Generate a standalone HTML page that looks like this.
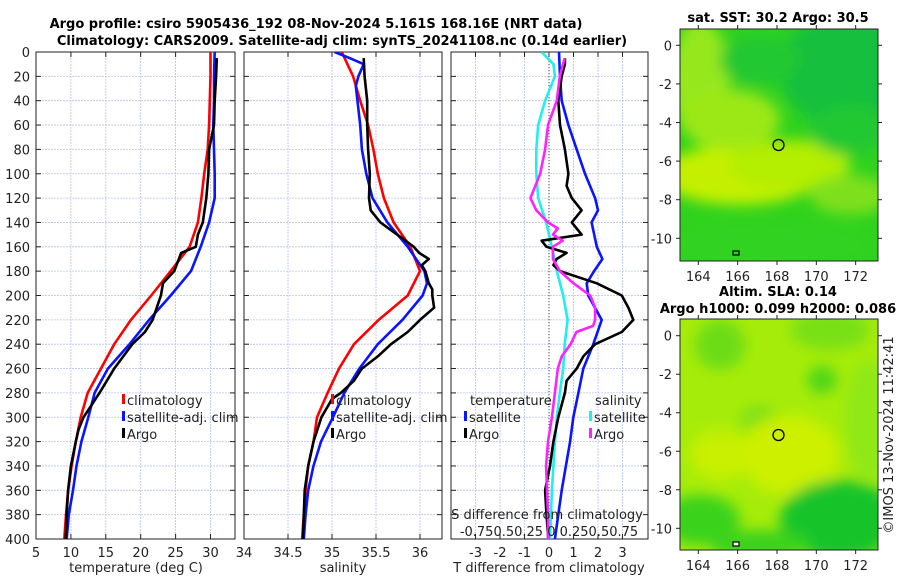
<!DOCTYPE html>
<html><head><meta charset="utf-8">
<style>
body{margin:0;background:#fff;}
svg{display:block;font-family:"DejaVu Sans","Liberation Sans",sans-serif;}
</style></head>
<body>
<svg id="fig" width="900" height="580" viewBox="0 0 900 580" xmlns="http://www.w3.org/2000/svg">
<defs>
<filter id="blur6" x="-50%" y="-50%" width="200%" height="200%"><feGaussianBlur stdDeviation="7"/></filter>
<clipPath id="cm1"><rect x="680" y="29" width="198" height="232"/></clipPath>
<clipPath id="cm2"><rect x="680" y="319" width="198" height="231"/></clipPath>
<clipPath id="cp1"><rect x="36" y="52" width="199" height="487"/></clipPath>
<clipPath id="cp2"><rect x="244" y="52" width="198" height="487"/></clipPath>
<clipPath id="cp3"><rect x="451" y="52" width="197" height="487"/></clipPath>
</defs>
<text x="316" y="28" text-anchor="middle" font-size="13" font-weight="bold">Argo profile: csiro 5905436_192 08-Nov-2024 5.161S 168.16E (NRT data)</text>
<text x="342" y="45" text-anchor="middle" font-size="13" font-weight="bold">Climatology: CARS2009. Satellite-adj clim: synTS_20241108.nc (0.14d earlier)</text>

<g id="maps">
<text x="778" y="22" text-anchor="middle" font-size="13" font-weight="bold">sat. SST: 30.2 Argo: 30.5</text>
<g clip-path="url(#cm1)">
<rect x="680" y="29" width="198" height="232" fill="#2ed21e"/>
<g filter="url(#blur6)">
<ellipse cx="700" cy="80" rx="30" ry="60" fill="#96e81a"/>
<ellipse cx="850" cy="70" rx="70" ry="60" fill="#14bf3c"/>
<ellipse cx="760" cy="60" rx="40" ry="25" fill="#22c830"/>
<ellipse cx="740" cy="175" rx="80" ry="30" fill="#c4f000"/>
<ellipse cx="790" cy="165" rx="60" ry="25" fill="#b4ee06"/>
<ellipse cx="730" cy="120" rx="50" ry="30" fill="#9ce812"/>
<ellipse cx="850" cy="195" rx="40" ry="20" fill="#7ee01a"/>
<ellipse cx="760" cy="245" rx="110" ry="22" fill="#30d222"/>
<ellipse cx="850" cy="130" rx="40" ry="25" fill="#24c832"/>
</g>
<circle cx="778.5" cy="145" r="5.5" fill="none" stroke="#000" stroke-width="1.3"/>
<rect x="733" y="251" width="6" height="4" fill="none" stroke="#000" stroke-width="1.2"/>
</g>
<rect x="680" y="29" width="198" height="232" fill="none" stroke="#222" stroke-width="1"/>
<text x="778" y="296" text-anchor="middle" font-size="13" font-weight="bold">Altim. SLA: 0.14</text>
<text x="778" y="313" text-anchor="middle" font-size="13" font-weight="bold">Argo h1000: 0.099 h2000: 0.086</text>
<g clip-path="url(#cm2)">
<rect x="680" y="319" width="198" height="231" fill="#a6ec0a"/>
<g filter="url(#blur6)">
<ellipse cx="720" cy="345" rx="25" ry="25" fill="#6cdc16"/>
<ellipse cx="830" cy="330" rx="40" ry="20" fill="#78e014"/>
<ellipse cx="822" cy="380" rx="15" ry="14" fill="#50d618"/>
<ellipse cx="760" cy="420" rx="20" ry="15" fill="#80e014"/>
<ellipse cx="720" cy="455" rx="30" ry="25" fill="#c8f000"/>
<ellipse cx="790" cy="455" rx="50" ry="40" fill="#ccf000"/>
<ellipse cx="840" cy="520" rx="60" ry="40" fill="#16c42c"/>
<ellipse cx="700" cy="520" rx="40" ry="25" fill="#3ad21c"/>
<ellipse cx="760" cy="545" rx="50" ry="15" fill="#3ad21c"/>
<ellipse cx="870" cy="420" rx="25" ry="60" fill="#90e812"/>
</g>
<circle cx="778.5" cy="435" r="5.5" fill="none" stroke="#000" stroke-width="1.3"/>
<rect x="733" y="542" width="6" height="4" fill="#fff" stroke="#000" stroke-width="1.2"/>
</g>
<rect x="680" y="319" width="198" height="231" fill="none" stroke="#222" stroke-width="1"/>
<text transform="translate(893,435) rotate(-90)" text-anchor="middle" font-size="13" fill="#222">©IMOS 13-Nov-2024 11:42:41</text>
</g>
<g id="plots"></g>
</svg>
<script>
// ---------- data ----------
var depthTicks=[0,20,40,60,80,100,120,140,160,180,200,220,240,260,280,300,320,340,360,380,400];
var tempTicks=[5,10,15,20,25,30];
var salTicks=[34,34.5,35,35.5,36];
var salTickLabels=["34","34.5","35","35.5","36"];
var diffTicks=[-3,-2,-1,0,1,2,3];

var climDepth=[0,20,40,60,80,100,120,140,160,180,200,220,240,260,280,300,320,340,360,380,400];
var climTemp=[30.0,30.0,29.9,29.8,29.6,29.1,28.7,28.2,27.0,24.3,21.5,18.6,16.2,14.3,12.4,11.4,10.7,10.1,9.6,9.3,9.05];
var satTemp=[30.6,30.5,30.5,30.4,30.5,30.6,30.6,29.8,28.6,27.2,24.3,21.2,18.4,15.3,13.4,12.5,11.5,10.8,10.3,9.7,9.4];
var argoDepth=[5,20,40,60,80,100,120,140,150,160,165,180,190,200,220,230,240,260,280,300,310,320,340,360,380,400];
var argoTemp=[30.9,30.8,30.6,30.5,29.8,29.7,29.4,28.9,28.2,27.9,25.8,24.8,23.2,22.9,21.7,20.6,18.8,16.2,14.1,11.8,11.1,10.7,10.0,9.6,9.4,9.25];

var climSal=[35.11,35.24,35.32,35.41,35.47,35.52,35.59,35.70,35.89,36.0,35.86,35.53,35.25,35.08,34.95,34.83,34.79,34.73,34.70,34.68,34.66];
var satSalDepth=[0,5,10,20,28,60,80,100,120,140,160,180,190,200,220,240,260,280,300,320,340,360,380,400];
var satSal=[35.03,35.2,35.36,35.30,35.27,35.32,35.34,35.39,35.46,35.63,35.86,36.05,36.08,36.03,35.80,35.52,35.31,35.14,35.01,34.875,34.79,34.73,34.70,34.68];
var argoSalDepth=[5,20,40,60,80,100,120,130,140,150,160,165,170,175,180,190,195,200,210,220,230,240,250,260,270,280,285,300,320,340,360,380,400];
var argoSal=[35.36,35.37,35.40,35.40,35.41,35.43,35.42,35.44,35.55,35.74,35.93,35.99,36.1,36.02,36.06,36.1,36.14,36.14,36.16,36.0,35.86,35.67,35.52,35.34,35.25,35.1,35.0,34.88,34.79,34.73,34.69,34.68,34.67];

var satTdiffDepth=[0,20,40,60,80,100,120,130,140,160,170,180,190,200,220,240,260,280,300,320,340,360,380,400];
var satTdiff=[0.41,0.45,0.52,0.79,1.13,1.47,1.88,2.0,1.74,1.95,2.18,1.84,1.54,1.6,2.15,1.81,1.4,1.2,0.99,0.86,0.69,0.52,0.38,0.24];
var satSdiffDepth=[0,10,20,30,40,60,80,100,120,140,160,180,200,220,240,260,280,300,320,340,360,380,400];
var satSdiff=[-0.075,0.045,0.06,0.01,-0.04,-0.11,-0.13,-0.13,-0.11,-0.03,0.03,0.08,0.145,0.19,0.16,0.145,0.11,0.08,0.06,0.045,0.03,0.02,0.01];
var argoTdiffDepth=[5,10,20,40,60,80,100,110,120,130,140,150,155,160,165,170,175,180,190,200,210,220,230,240,250,260,270,280,300,320,340,360,380,400];
var argoTdiff=[0.65,0.65,0.52,0.38,0.45,0.65,0.79,0.72,0.93,1.33,0.93,1.33,-0.3,-0.1,0.72,0.31,0.18,0.45,1.95,2.97,3.24,3.44,2.97,1.88,1.4,1.13,0.72,0.65,0.38,0.18,0.04,-0.16,-0.1,-0.03];
var argoSdiffDepth=[5,20,40,60,80,100,120,130,140,145,150,155,160,170,180,190,200,210,220,225,230,240,250,260,280,300,320,340,360,380,400];
var argoSdiff=[0.16,0.11,0.08,-0.01,-0.04,-0.09,-0.19,-0.13,-0.01,0.09,0.04,0.14,0.04,0.04,0.11,0.25,0.42,0.47,0.47,0.45,0.28,0.22,0.13,0.09,0.06,0.03,-0.01,-0.03,-0.02,-0.01,-0.01];

// ---------- drawing ----------
var NS="http://www.w3.org/2000/svg";
var root=document.getElementById('plots');
function mk(tag,attrs,parent){var e=document.createElementNS(NS,tag);for(var k in attrs)e.setAttribute(k,attrs[k]);(parent||root).appendChild(e);return e;}
var plotTop=52,plotBot=539;
function yD(d){return plotTop+(d/400)*(plotBot-plotTop);}
function xT(v){return 36+(v-5)*6.98;}
function xS(v){return 244+(v-34)*88;}
function xDT(v){return 549+v*24.5;}
function xDS(v){return 549+v*4*24.5;}

function panel(x0,x1,xs,xscale,name){
  var g=mk('g',{});
  
  
  depthTicks.forEach(function(d){
    var l=mk('line',{x1:x0,x2:x1,y1:yD(d),y2:yD(d),stroke:'#b8c0e8','stroke-width':0.8,'stroke-dasharray':'2,1'},g);
    
    
    mk('line',{x1:x0,x2:x0+5,y1:yD(d),y2:yD(d),stroke:'#222'},g);
    mk('line',{x1:x1-5,x2:x1,y1:yD(d),y2:yD(d),stroke:'#222'},g);
  });
  xs.forEach(function(v){
    var l=mk('line',{x1:xscale(v),x2:xscale(v),y1:plotTop,y2:plotBot,stroke:'#b8c0e8','stroke-width':0.8,'stroke-dasharray':'2,1'},g);
    
    
    mk('line',{x1:xscale(v),x2:xscale(v),y1:plotBot-5,y2:plotBot,stroke:'#222'},g);
    mk('line',{x1:xscale(v),x2:xscale(v),y1:plotTop,y2:plotTop+5,stroke:'#222'},g);
  });
  var r=mk('rect',{x:x0,y:plotTop,width:x1-x0,height:plotBot-plotTop,fill:'none',stroke:'#222','stroke-width':1},g);
  
  
  return g;
}
function line(depths,vals,xscale,color,clip,name,w){
  var pts=depths.map(function(d,i){return xscale(vals[i]).toFixed(1)+','+yD(d).toFixed(1);}).join(' ');
  var p=mk('polyline',{points:pts,fill:'none',stroke:color,'stroke-width':w||2.6,'stroke-linejoin':'round','clip-path':'url(#'+clip+')'});
  
  
}
function text(x,y,s,anchor,size,name,color){
  var t=mk('text',{x:x,y:y,'text-anchor':anchor||'middle','font-size':size||13,fill:color||'#222'});
  t.textContent=s;
  
  
  return t;
}
function legendEntry(x,y,color,label,name){
  var b=mk('rect',{x:x,y:y-11,width:3,height:10,fill:color});
  
  
  text(x+5,y,label,'start',13,name);
}

depthTicks.forEach(function(d){text(30,yD(d)+5,String(d),'end',13,'y-tick-label');});

// Panel 1
panel(36,235,tempTicks,xT,'temperature-panel');
tempTicks.forEach(function(v){text(xT(v),557,String(v),'middle',13,'temp-x-tick-label');});
text(136,572,'temperature (deg C)','middle',13,'temp-x-axis-title');
line(climDepth,climTemp,xT,'#ff0000','cp1','climatology-temp-line');
line(climDepth,satTemp,xT,'#0a14ff','cp1','satellite-temp-line');
line(argoDepth,argoTemp,xT,'#000000','cp1','argo-temp-line');
legendEntry(122,405,'#ff0000','climatology','legend-climatology');
legendEntry(122,422,'#0a14ff','satellite-adj. clim','legend-satellite-adj');
legendEntry(122,439,'#000','Argo','legend-argo');

// Panel 2
panel(244,442,salTicks,xS,'salinity-panel');
salTicks.forEach(function(v,i){text(xS(v),557,salTickLabels[i],'middle',13,'sal-x-tick-label');});
text(343,572,'salinity','middle',13,'sal-x-axis-title');
line(climDepth,climSal,xS,'#ff0000','cp2','climatology-sal-line');
line(satSalDepth,satSal,xS,'#0a14ff','cp2','satellite-sal-line');
line(argoSalDepth,argoSal,xS,'#000000','cp2','argo-sal-line');
legendEntry(331,405,'#ff0000','climatology','legend-climatology-2');
legendEntry(331,422,'#0a14ff','satellite-adj. clim','legend-satellite-adj-2');
legendEntry(331,439,'#000','Argo','legend-argo-2');

// Panel 3
panel(451,648,diffTicks,xDT,'difference-panel');
var zl=mk('line',{x1:xDT(0),x2:xDT(0),y1:plotTop,y2:plotBot,stroke:'#444','stroke-width':1,'stroke-dasharray':'1,2'});


diffTicks.forEach(function(v){text(xDT(v),557,String(v),'middle',13,'tdiff-x-tick-label');});
text(549,572,'T difference from climatology','middle',13,'tdiff-x-axis-title');
line(satSdiffDepth,satSdiff,xDS,'#22eeee','cp3','satellite-sal-diff-line');
line(satTdiffDepth,satTdiff,xDT,'#0a14ff','cp3','satellite-temp-diff-line');
line(argoTdiffDepth,argoTdiff,xDT,'#000000','cp3','argo-temp-diff-line');
line(argoSdiffDepth,argoSdiff,xDS,'#ff22ff','cp3','argo-sal-diff-line');
text(470,405,'temperature','start',13,'legend-temperature-header');
legendEntry(464,422,'#0a14ff','satellite','legend-temp-satellite');
legendEntry(464,439,'#000','Argo','legend-temp-argo');
text(595,405,'salinity','start',13,'legend-salinity-header');
legendEntry(589,422,'#22eeee','satellite','legend-sal-satellite');
legendEntry(589,439,'#ff22ff','Argo','legend-sal-argo');
text(547,519,'S difference from climatology','middle',13,'sdiff-axis-title');
text(549,536,'-0.750.50.25 0 0.250.50.75','middle',13,'sdiff-tick-labels');

// map axes
var lonTicks=[164,166,168,170,172];
var latTicks=[0,-2,-4,-6,-8,-10];
function mapAxes(y0,y1,lat0,lat10,name){
  lonTicks.forEach(function(v){
    var x=698.3+(v-164)*19.67;
    mk('line',{x1:x,x2:x,y1:y1,y2:y1+4,stroke:'#222'});
    mk('line',{x1:x,x2:x,y1:y0-4,y2:y0,stroke:'#222'});
    text(x,y1+20,String(v),'middle',13,name+'-lon-tick-label');
  });
  latTicks.forEach(function(v){
    var y=lat0+(-v/10)*(lat10-lat0);
    mk('line',{x1:676,x2:680,y1:y,y2:y,stroke:'#222'});
    mk('line',{x1:878,x2:882,y1:y,y2:y,stroke:'#222'});
    text(672,y+5,String(v),'end',13,name+'-lat-tick-label');
  });
}
mapAxes(29,261,45.3,238.3,'sst-map');
mapAxes(319,550,335.7,528.3,'sla-map');
</script>
</body></html>
